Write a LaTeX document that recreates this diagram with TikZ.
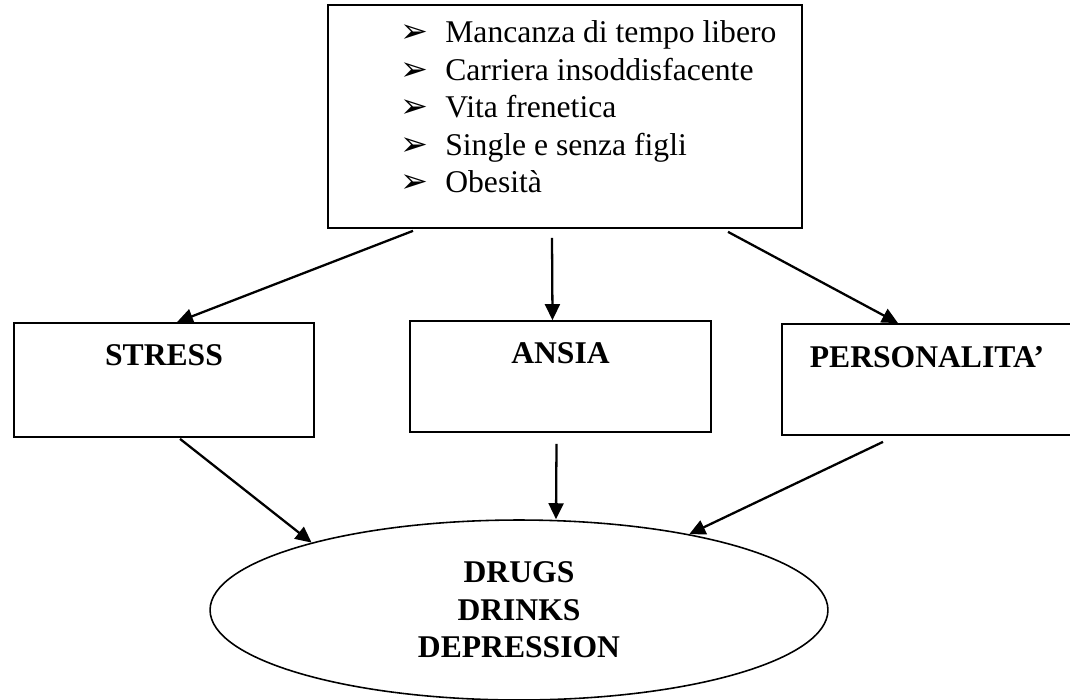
\documentclass[tikz,border=0pt]{standalone}
\usepackage{fontspec}
\setmainfont{Liberation Serif}
\newfontfamily\symfont{DejaVu Sans}
\usetikzlibrary{shapes.geometric,arrows.meta,calc}

\begin{document}
\begin{tikzpicture}[x=0.02cm, y=-0.02cm,
    font=\fontsize{18}{21.34}\selectfont,
    box/.style={rectangle, draw, line width=1pt, inner sep=0pt},
    head/.style={font=\bfseries\fontsize{18}{21.34}\selectfont},
    link/.style={-{Triangle[length=0.32cm,width=0.3cm]}, line width=1.3pt}]
    \useasboundingbox (0,0) rectangle (1070,699);

    % Causes
    \node[box, minimum width=9.48cm, minimum height=4.46cm] (causes) at (565,116.5) {};
    \foreach \txt [count=\i] in {Mancanza di tempo libero, Carriera insoddisfacente,
        Vita frenetica, Single e senza figli, Obesità}
        \node[anchor=base west, inner sep=0pt] (item\i) at (400,{5.5+37.5*\i})
            {\makebox[0.9cm][l]{\symfont\fontsize{19}{19}\selectfont ➢}\txt};

    % Middle row
    \node[box, head, minimum width=6cm, text height=0.84cm, text depth=1.44cm, anchor=base]
        (stress) at (164,365) {STRESS};
    \node[box, head, minimum width=6.02cm, text height=0.84cm, text depth=1.38cm, anchor=base]
        (ansia) at (560.5,363) {ANSIA};
    \node[box, head, minimum width=5.8cm, text height=0.86cm, text depth=1.36cm, anchor=base]
        (pers) at (927,367) {PERSONALITA’};

    % Effects
    \node[ellipse, draw, line width=0.9pt, inner sep=0pt, minimum width=12.36cm,
        minimum height=3.6cm, align=center, head] (drugs) at (519,610)
        {DRUGS\\DRINKS\\DEPRESSION};

    % Arrows
    \draw[link] ($(causes.south)+(-152,2)$) -- ($(stress.north)+(13,0)$);
    \draw[link] ($(causes.south)+(-13,9)$) -- ($(ansia.north)+(-8,0)$);
    \draw[link] ($(causes.south)+(163,3)$) -- ($(pers.north)+(-29,0)$);
    \draw[link] ($(stress.south)+(16,1)$) -- (drugs.162);
    \draw[link] ($(ansia.south)+(-4,11)$) -- ($(drugs.north)+(37,0)$);
    \draw[link] ($(pers.south)+(-44,6)$) -- (drugs.24);
\end{tikzpicture}
\end{document}
